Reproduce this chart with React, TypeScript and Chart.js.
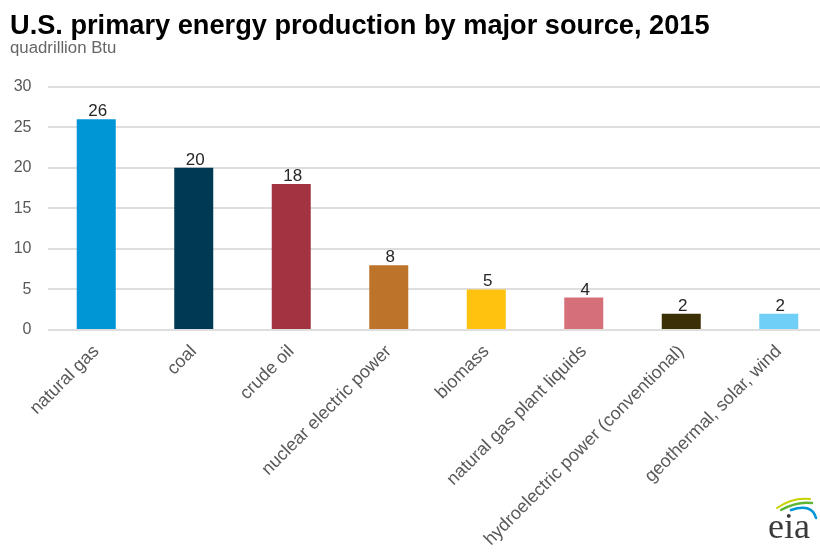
import React, { useEffect, useRef } from "react";
import { Chart, registerables } from "chart.js";

Chart.register(...registerables);

const categories = [
  "natural gas",
  "coal",
  "crude oil",
  "nuclear electric power",
  "biomass",
  "natural gas plant liquids",
  "hydroelectric power (conventional)",
  "geothermal, solar, wind",
];
const values = [26, 20, 18, 8, 5, 4, 2, 2];
const barColors = [
  "#0096d6",
  "#003953",
  "#a33340",
  "#bd732a",
  "#ffc20e",
  "#d5707b",
  "#3b2f05",
  "#6fcff6",
];
const yTicks = [0, 5, 10, 15, 20, 25, 30];
const titleText = "U.S. primary energy production by major source, 2015";
const subtitleText = "quadrillion Btu";
const logoText = "eia";

const FONT = "'Liberation Sans', Arial, Helvetica, sans-serif";

const valueLabels = {
  id: "valueLabels",
  afterDatasetsDraw(chart: any) {
    const ctx = chart.ctx;
    const meta = chart.getDatasetMeta(0);
    ctx.save();
    ctx.font = `17px ${FONT}`;
    ctx.fillStyle = "#262626";
    ctx.textAlign = "center";
    ctx.textBaseline = "alphabetic";
    meta.data.forEach((bar: any, i: number) => {
      ctx.fillText(String(values[i]), bar.x + 1.5, bar.y - 3);
    });
    ctx.restore();
  },
};

const eiaLogo = {
  id: "eiaLogo",
  afterDraw(chart: any) {
    const ctx = chart.ctx;
    ctx.save();
    ctx.lineCap = "round";
    ctx.lineWidth = 2;
    ctx.strokeStyle = "#c9d200";
    ctx.beginPath();
    ctx.moveTo(777, 508);
    ctx.quadraticCurveTo(793, 497, 810, 499);
    ctx.stroke();
    ctx.strokeStyle = "#5db533";
    ctx.lineWidth = 2.5;
    ctx.beginPath();
    ctx.moveTo(781, 510);
    ctx.quadraticCurveTo(797, 501, 812, 503);
    ctx.stroke();
    ctx.strokeStyle = "#0096d6";
    ctx.lineWidth = 2.5;
    ctx.beginPath();
    ctx.moveTo(791, 510);
    ctx.quadraticCurveTo(812, 503, 816, 518);
    ctx.stroke();
    ctx.font = `36px 'Liberation Serif', 'DejaVu Serif', serif`;
    ctx.fillStyle = "#3a3a3a";
    ctx.textAlign = "left";
    ctx.textBaseline = "alphabetic";
    ctx.fillText(logoText, 768, 538);
    ctx.restore();
  },
};

export default function App() {
  const canvasRef = useRef<HTMLCanvasElement | null>(null);

  useEffect(() => {
    if (!canvasRef.current) return;
    const chart = new Chart(canvasRef.current, {
      type: "bar",
      data: {
        labels: categories,
        datasets: [
          {
            data: values,
            backgroundColor: barColors,
            borderWidth: 0,
            categoryPercentage: 0.8,
            barPercentage: 0.5,
          },
        ],
      },
      options: {
        animation: false,
        responsive: true,
        maintainAspectRatio: false,
        layout: { padding: { left: 10, right: 8.5, top: 0, bottom: 0 } },
        plugins: {
          legend: { display: false },
          tooltip: { enabled: false },
          title: {
            display: true,
            text: titleText,
            align: "start",
            color: "#000000",
            font: { family: FONT, size: 27.2, weight: "bold", lineHeight: 1.0 },
            padding: { top: 12.8, bottom: 0 },
          },
          subtitle: {
            display: true,
            text: subtitleText,
            align: "start",
            color: "#666666",
            font: { family: FONT, size: 16.8, lineHeight: 0.6 },
            padding: { top: 3, bottom: 33.7 },
          },
        },
        scales: {
          x: {
            grid: { display: false, drawTicks: false },
            border: { display: false },
            ticks: {
              color: "#595959",
              font: { family: FONT, size: 18 },
              minRotation: 45,
              maxRotation: 45,
              autoSkip: false,
              padding: 11,
            },
            afterFit: (scale: any) => {
              scale.height = 222;
            },
          },
          y: {
            min: 0,
            max: 30,
            grid: { color: "#dedede", lineWidth: 2, drawTicks: false },
            border: { display: false },
            ticks: {
              color: "#595959",
              font: { family: FONT, size: 16 },
              padding: 16,
            },
            afterBuildTicks: (scale: any) => {
              scale.ticks = yTicks.map((v) => ({ value: v }));
            },
            afterFit: (scale: any) => {
              scale.width = 37.5;
            },
          },
        },
      },
      plugins: [valueLabels, eiaLogo],
    });
    return () => chart.destroy();
  }, []);

  return (
    <div
      style={{
        position: "fixed",
        left: 0,
        top: 0,
        width: 820,
        height: 552,
        overflow: "hidden",
        background: "#ffffff",
      }}
    >
      <div style={{ position: "relative", width: 836, height: 552 }}>
        <canvas ref={canvasRef} />
      </div>
    </div>
  );
}
